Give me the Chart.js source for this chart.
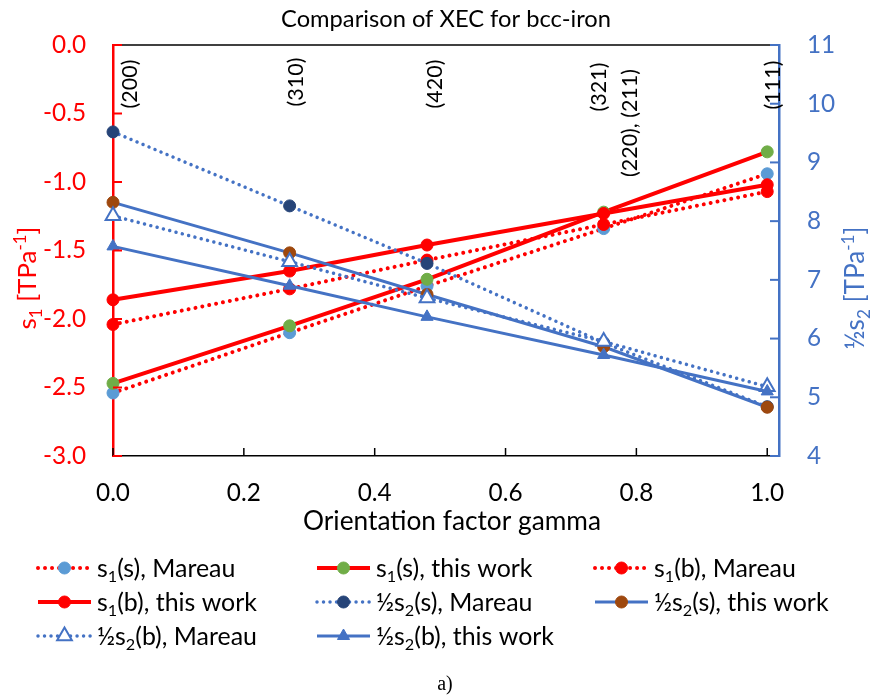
<!DOCTYPE html>
<html><head><meta charset="utf-8">
<script src="https://cdn.jsdelivr.net/npm/chart.js@4.4.1/dist/chart.umd.min.js"></script>
<style>html,body{margin:0;padding:0;background:#fff}#wrap{width:870px;height:698px;position:relative}canvas{display:block}</style>
</head><body><div id="wrap"><canvas id="c" width="870" height="698"></canvas></div>
<script>
// ---- data ----
const gamma = [0, 0.27, 0.48, 0.75, 1.0];
const s1sMareau    = [-2.54, -2.10, -1.76, -1.34, -0.94];
const s1sThisWork  = [-2.47, -2.05, -1.71, -1.22, -0.78];
const s1bMareau    = [-2.04, -1.78, -1.57, -1.31, -1.07];
const s1bThisWork  = [-1.86, -1.65, -1.46, -1.23, -1.02];
const hs2sMareau   = [9.52, 8.26, 7.28, 5.93, 4.84];
const hs2sThisWork = [8.32, 7.46, 6.75, 5.86, 4.83];
const hs2bMareau   = [8.09, 7.31, 6.69, 5.95, 5.18];
const hs2bThisWork = [7.57, 6.90, 6.37, 5.72, 5.10];
const seriesLabels = ['s₁(s), Mareau','s₁(s), this work','s₁(b), Mareau','s₁(b), this work',
  '½s₂(s), Mareau','½s₂(s), this work','½s₂(b), Mareau','½s₂(b), this work'];
const xTickValues = [0, 0.2, 0.4, 0.6, 0.8, 1.0];
const hklLabels = ['(200)','(310)','(420)','(321)','(220), (211)','(111)'];
const hklGamma  = [0, 0.27, 0.48, 0.75, 0.75, 1.0];
const chartTitle = 'Comparison of XEC for bcc-iron';
const xTitle = 'Orientation factor gamma';
const yLeftTitle = 's₁ [TPa⁻¹]';
const yRightTitle = '½s₂ [TPa⁻¹]';
const caption = 'a)';

// ---- styles ----
const RED = '#FF0000', BLUE = '#4472C4';
const FONT = 'Lato';
const pts = arr => arr.map((v, i) => ({x: gamma[i], y: v}));
const RED_DOT = [0.01, 7], BLUE_DOT = [0.01, 6.5];
function mk(label, data, axis, color, width, dash, pstyle, pfill, pborder, prad, pbw) {
  return {label, data: pts(data), yAxisID: axis, borderColor: color, borderWidth: width,
    borderDash: dash, borderCapStyle: dash.length ? 'round' : 'butt', fill: false, tension: 0,
    pointStyle: pstyle, pointBackgroundColor: pfill, pointBorderColor: pborder,
    pointRadius: prad, pointHoverRadius: prad, pointBorderWidth: pbw, clip: false};
}
const datasets = [
  mk(seriesLabels[0], s1sMareau,   'y',  RED, 4, RED_DOT, 'circle', '#5B9BD5', '#5B9BD5', 6, 1),
  mk(seriesLabels[1], s1sThisWork, 'y',  RED, 4, [], 'circle', '#70AD47', '#70AD47', 6, 1),
  mk(seriesLabels[2], s1bMareau,   'y',  RED, 4, RED_DOT, 'circle', RED, RED, 6, 1),
  mk(seriesLabels[3], s1bThisWork, 'y',  RED, 4, [], 'circle', RED, RED, 6, 1),
  mk(seriesLabels[4], hs2sMareau,  'y2', BLUE, 3.5, BLUE_DOT, 'circle', '#264478', '#264478', 6, 1),
  mk(seriesLabels[5], hs2sThisWork,'y2', BLUE, 3, [], 'circle', '#9E480E', '#9E480E', 6, 1),
  mk(seriesLabels[6], hs2bMareau,  'y2', BLUE, 3.5, BLUE_DOT, 'triangle', '#FFFFFF', BLUE, 8.5, 2),
  mk(seriesLabels[7], hs2bThisWork,'y2', BLUE, 3, [], 'triangle', BLUE, BLUE, 7, 1),
];
datasets.forEach((d, i) => d.order = datasets.length - i);

// ---- rich text helpers (sub/superscript) ----
const SUB = {'₀':'0','₁':'1','₂':'2','₃':'3'};
const SUP = {'⁻':'-','¹':'1','²':'2'};
function runs(text) {
  const out = [];
  for (const ch of text) {
    const t = SUB[ch] !== undefined ? 'sub' : SUP[ch] !== undefined ? 'sup' : 'n';
    const c = t === 'sub' ? SUB[ch] : t === 'sup' ? SUP[ch] : ch;
    if (out.length && out[out.length - 1].t === t) out[out.length - 1].s += c;
    else out.push({t, s: c});
  }
  return out;
}
const fontOf = (r, size, family) => (r.t === 'n' ? size : size * 0.65).toFixed(2) + 'px ' + family;
function richWidth(ctx, text, size, family) {
  family = family || FONT;
  ctx.save();
  let w = 0;
  runs(text).forEach(r => { ctx.font = fontOf(r, size, family); w += ctx.measureText(r.s).width; });
  ctx.restore();
  return w;
}
function drawRich(ctx, text, x, y, size, color, align, family) {
  family = family || FONT;
  ctx.save();
  ctx.fillStyle = color; ctx.textBaseline = 'alphabetic'; ctx.textAlign = 'left';
  const rs = runs(text);
  const ws = rs.map(r => { ctx.font = fontOf(r, size, family); return ctx.measureText(r.s).width; });
  const total = ws.reduce((a, b) => a + b, 0);
  let cx = align === 'center' ? x - total / 2 : align === 'right' ? x - total : x;
  const by = y + size * 0.36;
  rs.forEach((r, i) => {
    ctx.font = fontOf(r, size, family);
    const dy = r.t === 'sub' ? size * 0.2 : r.t === 'sup' ? -size * 0.38 : 0;
    ctx.fillText(r.s, cx, by + dy);
    cx += ws[i];
  });
  ctx.restore();
}
function drawMarker(ctx, d, x, y) {
  ctx.save();
  ctx.fillStyle = d.pointBackgroundColor; ctx.strokeStyle = d.pointBorderColor; ctx.lineWidth = d.pointBorderWidth;
  ctx.setLineDash([]);
  const r = d.pointRadius;
  ctx.beginPath();
  if (d.pointStyle === 'triangle') {
    let rad = 0;
    ctx.moveTo(x + Math.sin(rad) * r, y - Math.cos(rad) * r);
    rad += 2 * Math.PI / 3; ctx.lineTo(x + Math.sin(rad) * r, y - Math.cos(rad) * r);
    rad += 2 * Math.PI / 3; ctx.lineTo(x + Math.sin(rad) * r, y - Math.cos(rad) * r);
    ctx.closePath();
  } else {
    ctx.arc(x, y, r, 0, Math.PI * 2);
  }
  ctx.fill(); ctx.stroke();
  ctx.restore();
}

let SZ = {};
// ---- decoration plugin ----
const decor = {
  id: 'decor',
  beforeDraw(chart) {
    const ctx = chart.ctx; ctx.save(); ctx.fillStyle = '#fff'; ctx.fillRect(0, 0, chart.width, chart.height); ctx.restore();
  },
  afterDraw(chart) {
    const ctx = chart.ctx, a = chart.chartArea;
    const xs = chart.scales.x, yl = chart.scales.y, yr = chart.scales.y2;
    ctx.save();
    ctx.strokeStyle = '#000'; ctx.lineWidth = 1.5;
    ctx.beginPath(); ctx.moveTo(a.left, a.top); ctx.lineTo(a.right, a.top); ctx.stroke();
    xs.ticks.forEach(t => { const px = xs.getPixelForValue(t.value); ctx.beginPath(); ctx.moveTo(px, a.bottom); ctx.lineTo(px, a.bottom - 8); ctx.stroke(); });
    ctx.strokeStyle = RED; ctx.lineWidth = 2;
    yl.ticks.forEach(t => { const py = yl.getPixelForValue(t.value); ctx.beginPath(); ctx.moveTo(a.left, py); ctx.lineTo(a.left + 9, py); ctx.stroke(); });
    ctx.strokeStyle = BLUE;
    yr.ticks.forEach(t => { const py = yr.getPixelForValue(t.value); ctx.beginPath(); ctx.moveTo(a.right, py); ctx.lineTo(a.right - 9, py); ctx.stroke(); });
    ctx.restore();

    // hkl labels (rotated)
    const hklNudge = [16, 6, 7, -5, 26, 5];
    const hklCenterY = [84, 82, 84, 87, 123, 85];
    hklLabels.forEach((txt, i) => {
      ctx.save();
      ctx.translate(xs.getPixelForValue(hklGamma[i]) + hklNudge[i], hklCenterY[i]);
      ctx.rotate(-Math.PI / 2);
      drawRich(ctx, txt, 0, 0, SZ.hkl, '#000', 'center');
      ctx.restore();
    });

    const cxm = (a.left + a.right) / 2;
    drawRich(ctx, chartTitle, cxm, 18, SZ.title, '#000', 'center');
    drawRich(ctx, xTitle, cxm + 6, 521, SZ.xTitle, '#000', 'center');
    ctx.save(); ctx.translate(27, 278); ctx.rotate(-Math.PI / 2); drawRich(ctx, yLeftTitle, 0, 0, SZ.yL, RED, 'center'); ctx.restore();
    ctx.save(); ctx.translate(855, 288); ctx.rotate(-Math.PI / 2); drawRich(ctx, yRightTitle, 0, 0, SZ.yR, BLUE, 'center'); ctx.restore();

    // legend
    const cols = [38, 317, 595], rows = [568, 602, 636], sampleLen = 53;
    chart.data.datasets.forEach((d, i) => {
      const x0 = cols[i % 3], y0 = rows[Math.floor(i / 3)];
      ctx.save();
      ctx.strokeStyle = d.borderColor; ctx.lineWidth = d.borderWidth;
      ctx.setLineDash(d.borderDash); ctx.lineCap = d.borderCapStyle;
      ctx.beginPath(); ctx.moveTo(x0, y0); ctx.lineTo(x0 + sampleLen, y0); ctx.stroke();
      ctx.restore();
      drawMarker(ctx, d, x0 + sampleLen / 2, y0);
      drawRich(ctx, d.label, x0 + 59, y0, SZ.legend, '#000', 'left');
    });

    drawRich(ctx, caption, 445, 683, 20, '#000', 'center', 'Liberation Serif');
  }
};

function start() {
  const mctx = document.createElement('canvas').getContext('2d');
  const fit = (text, target) => 100 * target / richWidth(mctx, text, 100);
  SZ = {
    title: fit(chartTitle, 330),
    xTitle: fit(xTitle, 298),
    legend: fit(seriesLabels[7], 178),
    tick: fit('-0.5', 43),
    hkl: fit(hklLabels[4], 108),
    yL: fit(yLeftTitle, 103),
    yR: fit(yRightTitle, 123)
  };
  const tickFont = {family: FONT, size: SZ.tick, lineHeight: 1.2};
  new Chart(document.getElementById('c'), {
    type: 'line',
    data: {datasets},
    plugins: [decor],
    options: {
      responsive: false, animation: false, devicePixelRatio: 1,
      layout: {padding: {top: 45, left: 0, right: 0, bottom: 0}},
      plugins: {legend: {display: false}, title: {display: false}, tooltip: {enabled: false}},
      scales: {
        x: {
          type: 'linear', position: 'bottom', min: 0, max: 1.018,
          afterBuildTicks: s => { s.ticks = xTickValues.map(v => ({value: v})); },
          afterFit: s => { s.height = 242; },
          ticks: {padding: 37 - SZ.tick * 0.6, color: '#000', font: tickFont,
            callback: v => Number(v).toFixed(1), maxRotation: 0, autoSkip: false},
          grid: {display: false, drawTicks: false},
          border: {display: true, color: '#000', width: 1.5}
        },
        y: {
          type: 'linear', position: 'left', min: -3, max: 0,
          afterFit: s => { s.width = 113; },
          ticks: {stepSize: 0.5, padding: 27, color: RED, font: tickFont,
            callback: v => Number(v).toFixed(1)},
          grid: {display: false, drawTicks: false},
          border: {display: true, color: RED, width: 2.5}
        },
        y2: {
          type: 'linear', position: 'right', min: 4, max: 11,
          afterFit: s => { s.width = 91; },
          ticks: {stepSize: 1, padding: 28, color: BLUE, font: tickFont,
            callback: v => String(v)},
          grid: {display: false, drawTicks: false},
          border: {display: true, color: BLUE, width: 2.5}
        }
      }
    }
  });
}
if (document.fonts && document.fonts.load) {
  Promise.all([document.fonts.load('24px Lato'), document.fonts.load('20px "Liberation Serif"')]).then(start, start);
} else start();
</script>
</body></html>
